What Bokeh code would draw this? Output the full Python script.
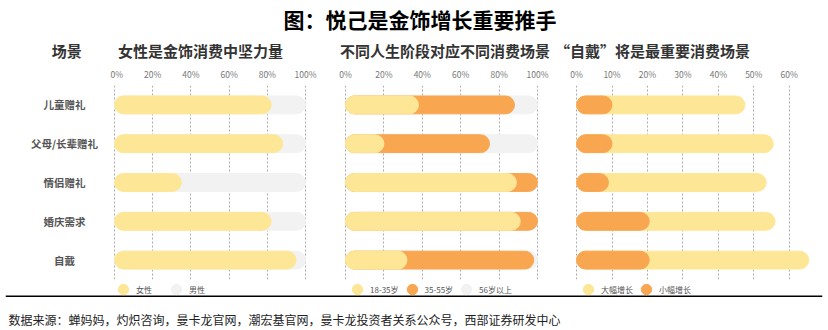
from bokeh.plotting import figure
from bokeh.layouts import column, row
from bokeh.models import (ColumnDataSource, FactorRange, Range1d, FixedTicker,
                          PrintfTickFormatter, Legend, LegendItem, Span, Label)
from bokeh.core.properties import value
from bokeh.embed import file_html
from bokeh.resources import INLINE

FONT = "Noto Sans CJK SC"

title_text = "图：悦己是金饰增长重要推手"
source_text = "数据来源：蝉妈妈，灼炽咨询，曼卡龙官网，潮宏基官网，曼卡龙投资者关系公众号，西部证券研发中心"
header_scene = "场景"
header1 = "女性是金饰消费中坚力量"
header2 = "不同人生阶段对应不同消费场景"
header3 = "“自戴”将是最重要消费场景"

categories = ["儿童赠礼", "父母/长辈赠礼", "情侣赠礼", "婚庆需求", "自戴"]

# panel 1: gender share (%)
female = [82, 88, 35, 82, 95]
male = [18, 12, 65, 18, 5]
# panel 2: age share (%)
age_18_35 = [38, 20, 89, 91, 32]
age_35_55 = [50, 55, 11, 9, 66]
age_56_plus = [12, 25, 0, 0, 2]
# panel 3: growth (%)
big_growth = [47.5, 55.5, 53.5, 56, 65.5]
small_growth = [10, 10, 9, 20.5, 20.5]

ticks_pct = [0, 20, 40, 60, 80, 100]
ticks_growth = [0, 10, 20, 30, 40, 50, 60]
legend1 = ["女性", "男性"]
legend2 = ["18-35岁", "35-55岁", "56岁以上"]
legend3 = ["大幅增长", "小幅增长"]

YELLOW = "#FDE797"
ORANGE = "#F9A651"
GRAY = "#F2F2F2"
BAR_H = 0.46
RADIUS = 9

yr = FactorRange(factors=categories[::-1])
ROW_H = 219
TOP = 23
BOTTOM = 2
TICK_STANDOFF = 6
NAN = float("nan")


def clear_fill(p):
    p.outline_line_color = None
    p.background_fill_alpha = 0
    p.border_fill_alpha = 0


def style_axis(p, ticks, label_color="#777777"):
    p.xaxis.ticker = FixedTicker(ticks=ticks)
    p.xaxis.formatter = PrintfTickFormatter(format="%d%%")
    p.xaxis.axis_line_color = None
    p.xaxis.major_tick_line_color = None
    p.xaxis.minor_tick_line_color = None
    p.xaxis.major_tick_out = 0
    p.xaxis.major_tick_in = 0
    p.xaxis.minor_tick_out = 0
    p.xaxis.minor_tick_in = 0
    p.xaxis.major_label_text_font = FONT
    p.xaxis.major_label_text_font_size = "8.5px"
    p.xaxis.major_label_text_color = label_color
    p.xaxis.major_label_standoff = TICK_STANDOFF
    p.xgrid.ticker = FixedTicker(ticks=ticks)
    p.xgrid.grid_line_color = "#aaaaaa"
    p.xgrid.grid_line_dash = "2 2"
    p.xgrid.grid_line_width = 1


def base(width, mbl, mbr, xr, ticks):
    p = figure(width=width, height=ROW_H, x_range=xr, y_range=yr,
               output_backend="svg", toolbar_location=None,
               x_axis_location="above", y_axis_location=None,
               min_border_left=mbl, min_border_right=mbr,
               min_border_top=TOP, min_border_bottom=BOTTOM)
    clear_fill(p)
    p.ygrid.visible = False
    style_axis(p, ticks)
    return p


# ---- title + header strip (coordinates are pixels of this strip)
tf = figure(width=828, height=62, x_range=Range1d(0, 828), y_range=Range1d(62, 0),
            output_backend="svg", toolbar_location=None,
            x_axis_location=None, y_axis_location=None, min_border=0)
clear_fill(tf)
tf.grid.visible = False
tf.add_layout(Label(x=420, y=18, text=title_text, text_align="center",
                    text_baseline="middle", text_font=FONT,
                    text_font_size="21px", text_font_style="bold",
                    text_color="#000000"))
for hx, htxt, halign in [(62, header_scene, "center"), (114, header1, "left"),
                         (339, header2, "left"), (557, header3, "left")]:
    tf.add_layout(Label(x=hx, y=50, text=htxt, text_align=halign,
                        text_baseline="middle", text_font=FONT,
                        text_font_size="15px", text_font_style="bold",
                        text_color="#333333"))

# ---- category labels column
pl = figure(width=110, height=ROW_H, x_range=Range1d(0, 1), y_range=yr,
            output_backend="svg", toolbar_location=None,
            x_axis_location="above", y_axis_location=None,
            min_border_left=18, min_border_right=0,
            min_border_top=TOP, min_border_bottom=BOTTOM)
clear_fill(pl)
style_axis(pl, [0.5], label_color=None)
pl.grid.visible = False
lab_src = ColumnDataSource(dict(cat=categories))
pl.text(x=0.5, y="cat", text="cat", source=lab_src, text_align="center",
        text_baseline="middle", text_font=value(FONT), text_font_size="10.5px",
        text_font_style="bold", text_color="#555555")

# ---- panel 1
p1 = base(215, 3, 19, Range1d(-0.5, 100.5), ticks_pct)
s1 = ColumnDataSource(dict(cat=categories, female=female,
                           total=[f + m for f, m in zip(female, male)]))
p1.hbar(y="cat", left=0, right="total", height=BAR_H, color=GRAY,
        border_radius=RADIUS, source=s1)
p1.hbar(y="cat", left=0, right="female", height=BAR_H, color=YELLOW,
        border_radius=RADIUS, source=s1)

# ---- panel 2
p2 = base(230, 19, 17, Range1d(-0.5, 100.5), ticks_pct)
c1 = age_18_35
c2 = [a + b for a, b in zip(age_18_35, age_35_55)]
c3 = [a + b + c for a, b, c in zip(age_18_35, age_35_55, age_56_plus)]
s2 = ColumnDataSource(dict(cat=categories, c1=c1, c2=c2, c3=c3))
p2.hbar(y="cat", left=0, right="c3", height=BAR_H, color=GRAY,
        border_radius=RADIUS, source=s2)
p2.hbar(y="cat", left=0, right="c2", height=BAR_H, color=ORANGE,
        border_radius=RADIUS, source=s2)
p2.hbar(y="cat", left=0, right="c1", height=BAR_H, color=YELLOW,
        border_radius=RADIUS, source=s2)

# ---- panel 3
p3 = base(273, 20, 18, Range1d(-0.3, 66), ticks_growth)
s3 = ColumnDataSource(dict(cat=categories, big=big_growth, small=small_growth))
p3.hbar(y="cat", left=0, right="big", height=BAR_H, color=YELLOW,
        border_radius=RADIUS, source=s3)
p3.hbar(y="cat", left=0, right="small", height=BAR_H, color=ORANGE,
        border_radius=RADIUS, source=s3)

# ---- bottom strip: legends, rule, source
bf = figure(width=828, height=49, x_range=Range1d(0, 1), y_range=Range1d(0, 1),
            output_backend="svg", toolbar_location=None,
            x_axis_location=None, y_axis_location=None,
            min_border_left=5, min_border_right=6, min_border_top=0,
            min_border_bottom=0)
clear_fill(bf)
bf.grid.visible = False


def add_legend(fig, labels, colors, loc, spacing):
    items = []
    for lab, col in zip(labels, colors):
        r = fig.scatter(x=[NAN], y=[NAN], marker="circle", size=12, color=col)
        items.append(LegendItem(label=lab, renderers=[r]))
    lg = Legend(items=items, location=loc, orientation="horizontal",
                glyph_width=26, glyph_height=30, label_standoff=0,
                spacing=spacing, padding=0, margin=0,
                border_line_color=None, background_fill_alpha=0,
                label_text_font=FONT, label_text_font_size="8px",
                label_text_color="#555555")
    fig.add_layout(lg)


add_legend(bf, legend1, [YELLOW, GRAY], (105, 26), 7)
add_legend(bf, legend2, [YELLOW, ORANGE, GRAY], (339, 26), 0)
add_legend(bf, legend3, [YELLOW, ORANGE], (570, 26), 0)

bf.add_layout(Span(location=0.70, dimension="width", line_color="#000000",
                   line_width=1.5))
bf.add_layout(Label(x=0, y=0.22, x_offset=3, text=source_text,
                    text_baseline="middle", text_font=FONT,
                    text_font_size="12px", text_color="#222222"))

layout = column(tf, row(pl, p1, p2, p3), bf)
open("out.html", "w").write(file_html(layout, INLINE))
